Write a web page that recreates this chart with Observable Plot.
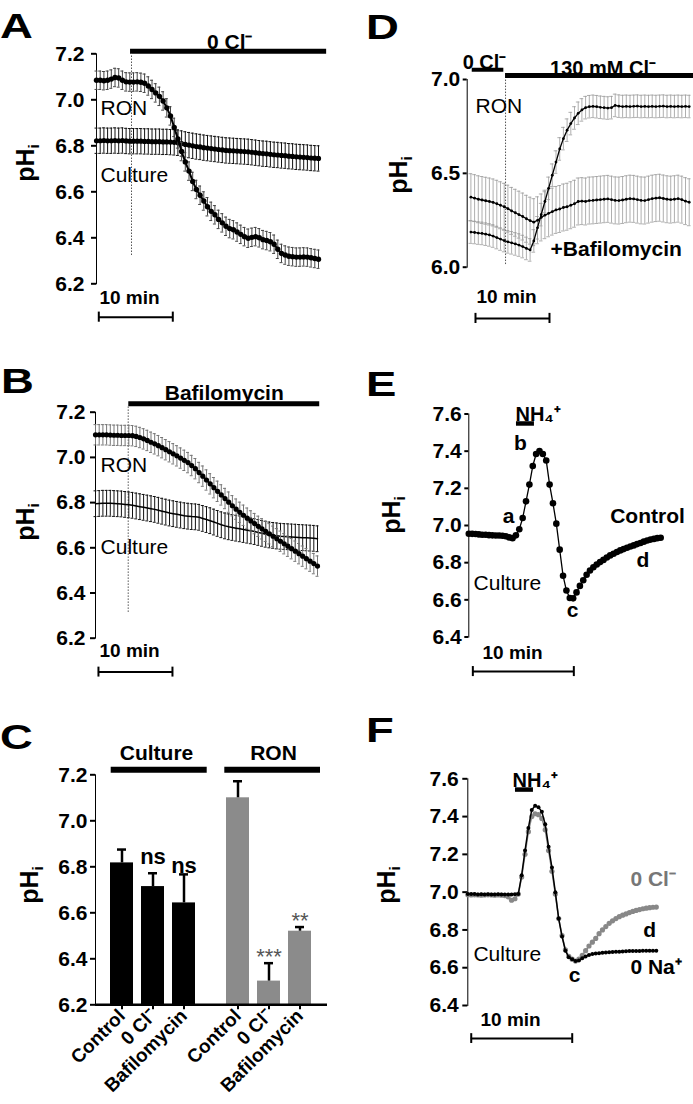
<!DOCTYPE html>
<html>
<head>
<meta charset="utf-8">
<title>Intracellular pH recordings</title>
<script src="https://cdn.jsdelivr.net/npm/d3@7"></script>
<script src="https://cdn.jsdelivr.net/npm/@observablehq/plot@0.6"></script>
<style>
html,body{margin:0;padding:0;background:#fff;}
#fig{position:relative;width:693px;height:1104px;overflow:hidden;background:#fff;font-family:"Liberation Sans",Arial,Helvetica,sans-serif;color:#000;}
.pnl{position:absolute;}
.pnl svg{display:block;overflow:visible;max-width:none !important;}
.letter{position:absolute;font-weight:bold;font-size:35px;line-height:1;transform:scaleX(1.3);transform-origin:0 0;}
.ylab{position:absolute;font-weight:bold;font-size:25px;line-height:1;white-space:nowrap;transform:translate(-50%,-50%) rotate(-90deg);}
.ylab sub{font-size:0.62em;vertical-align:-0.3em;}
.pnl svg g[aria-label^="y-axis"], .pnl svg g[aria-label^="x-axis"]{stroke-width:2px;}
.pnlC svg g[aria-label^="x-axis"] text{font-size:19px;}
</style>
</head>
<body>
<div id="fig"></div>
<script>
// ================= DATA =================
// Panel A: 0 Cl- (sampled every 0.5 min from t = 0)
const aRON = [7.085,7.085,7.083,7.085,7.09,7.097,7.095,7.085,7.078,7.077,7.077,
  7.078,7.076,7.072,7.06,7.045,7.03,7.015,6.995,6.965,6.93,
  6.88,6.83,6.775,6.73,6.69,6.645,6.61,6.585,6.56,6.535,
  6.515,6.5,6.48,6.465,6.45,6.44,6.435,6.425,6.415,6.405,
  6.398,6.402,6.405,6.4,6.392,6.388,6.383,6.372,6.35,6.332,
  6.325,6.32,6.318,6.316,6.316,6.317,6.316,6.313,6.31,6.307];
const aCulture = [6.822,6.822,6.823,6.822,6.822,6.823,6.822,6.823,6.821,6.82,6.82,
  6.82,6.82,6.819,6.819,6.818,6.818,6.818,6.817,6.817,6.816,
  6.815,6.813,6.81,6.806,6.803,6.8,6.797,6.795,6.792,6.79,
  6.788,6.786,6.784,6.782,6.78,6.779,6.778,6.777,6.776,6.775,
  6.774,6.772,6.77,6.768,6.766,6.765,6.763,6.761,6.76,6.758,
  6.757,6.755,6.754,6.752,6.751,6.75,6.749,6.747,6.746,6.745];
const semA_RON = 0.04, semA_Culture = 0.055;

// Panel B: Bafilomycin (every 0.5 min from t = 0)
const bRON = [7.1,7.1,7.1,7.1,7.099,7.098,7.098,7.097,7.097,7.097,7.096,
  7.093,7.088,7.082,7.075,7.067,7.06,7.052,7.043,7.034,7.025,
  7.016,7.007,6.997,6.987,6.977,6.964,6.95,6.933,6.917,6.9,
  6.883,6.866,6.85,6.834,6.818,6.802,6.786,6.771,6.757,6.744,
  6.731,6.719,6.707,6.695,6.684,6.673,6.662,6.651,6.64,6.629,
  6.618,6.607,6.596,6.585,6.574,6.563,6.552,6.541,6.53,6.519];
const bCulture = [6.795,6.796,6.797,6.797,6.797,6.796,6.795,6.794,6.792,6.79,6.788,
  6.785,6.782,6.779,6.776,6.773,6.77,6.766,6.762,6.758,6.754,
  6.751,6.748,6.745,6.742,6.74,6.738,6.737,6.735,6.73,6.725,
  6.72,6.714,6.708,6.702,6.697,6.693,6.69,6.687,6.684,6.681,
  6.678,6.675,6.672,6.668,6.664,6.66,6.657,6.655,6.653,6.651,
  6.65,6.649,6.648,6.647,6.646,6.645,6.644,6.643,6.642,6.64];
const semB_RON = 0.045, semB_Culture = 0.057;

// Panel C: mean pHi (bars) and SEM
const cCategories = ["Control", "0 Cl\u207B", "Bafilomycin"];
const cCultureMean = [6.817, 6.714, 6.643];
const cCultureSEM = [0.058, 0.058, 0.124];
const cRONMean = [7.10, 6.303, 6.52];
const cRONSEM = [0.072, 0.078, 0.018];
const cCultureSig = ["", "ns", "ns"];
const cRONSig = ["", "***", "**"];

// Panel D: RON, 0 Cl- then 130 mM Cl- (every 0.5 min from t = 0.5)
const dRON = [6.187,6.185,6.182,6.18,6.176,6.172,6.166,6.158,6.15,6.142,
  6.135,6.13,6.124,6.118,6.11,6.1,6.092,6.14,6.21,6.28,
  6.35,6.42,6.49,6.56,6.63,6.685,6.73,6.765,6.795,6.82,
  6.838,6.85,6.855,6.857,6.855,6.852,6.85,6.848,6.85,6.862,
  6.858,6.856,6.857,6.856,6.857,6.858,6.856,6.857,6.856,6.857,
  6.856,6.857,6.858,6.856,6.857,6.856,6.857,6.856,6.857,6.856];
const dBafilomycin = [6.373,6.368,6.362,6.358,6.354,6.35,6.345,6.338,6.33,6.322,
  6.312,6.3,6.29,6.28,6.27,6.258,6.248,6.24,6.25,6.265,
  6.277,6.287,6.296,6.305,6.31,6.318,6.322,6.33,6.338,6.35,
  6.352,6.35,6.355,6.356,6.358,6.36,6.362,6.364,6.36,6.356,
  6.355,6.358,6.362,6.365,6.364,6.36,6.356,6.355,6.36,6.365,
  6.368,6.37,6.366,6.362,6.36,6.362,6.365,6.36,6.352,6.346];
const semD_RON = 0.06, semD_Baf = 0.125;

// Panel E: NH4+ pulse, control (every 1/3 min from t = 0)
const eControl = [6.956,6.955,6.954,6.952,6.95,6.95,6.948,6.947,6.946,6.946,
  6.945,6.942,6.936,6.932,6.947,6.98,7.04,7.13,7.22,7.32,
  7.385,7.40,7.385,7.35,7.22,7.12,7.01,6.87,6.73,6.65,
  6.61,6.608,6.64,6.675,6.705,6.735,6.758,6.775,6.79,6.803,
  6.815,6.828,6.839,6.848,6.857,6.866,6.873,6.88,6.887,6.893,
  6.9,6.906,6.913,6.919,6.924,6.928,6.932,6.934];

// Panel F: NH4+ pulse, 0 Na+ (black) and 0 Cl- (grey) (every 1/3 min from t = 0)
const fNa0 = [6.99,6.99,6.99,6.988,6.989,6.988,6.989,6.988,6.988,6.989,6.988,6.987,6.988,6.988,6.989,6.99,
  7.09,7.22,7.34,7.435,7.458,7.45,7.425,7.36,7.24,7.13,
  7.0,6.86,6.765,6.69,6.655,6.645,6.635,6.638,6.65,6.66,
  6.667,6.672,6.675,6.677,6.679,6.68,6.682,6.683,6.684,6.685,
  6.686,6.687,6.688,6.688,6.689,6.689,6.69,6.69,6.69,6.69,6.69];
const fCl0 = [6.986,6.985,6.986,6.985,6.984,6.985,6.986,6.985,6.984,6.985,6.984,6.982,6.975,6.957,6.965,6.99,
  7.08,7.2,7.32,7.4,7.415,7.41,7.39,7.33,7.22,7.11,
  6.99,6.86,6.77,6.695,6.66,6.645,6.635,6.645,6.665,6.69,
  6.715,6.735,6.755,6.78,6.8,6.818,6.835,6.848,6.86,6.87,
  6.878,6.885,6.892,6.898,6.903,6.908,6.912,6.915,6.918,6.92,6.921];

const ticksAB = [6.2, 6.4, 6.6, 6.8, 7.0, 7.2];
const ticksD = [6.0, 6.5, 7.0];
const ticksEF = [6.4, 6.6, 6.8, 7.0, 7.2, 7.4, 7.6];

// ================= ANNOTATIONS (layout, in data units) =================
const notesA = [
  {label: "0 Cl\u207B", t: 18.0, ph: 7.223, anchor: "middle"},
  {label: "RON", t: 0.54, ph: 6.932, weight: "normal"},
  {label: "Culture", t: 0.54, ph: 6.642, weight: "normal"},
  {label: "10 min", t: 0.4, ph: 6.114, size: 19}
];
const treatA = [{t1: 4.6, t2: 31.1, ph: 7.211}];
const dottedA = [{t: 4.73, ph1: 6.323, ph2: 7.2}];
const scaleA = {t1: 0.31, t2: 10.31, ph: 6.055, cap: 0.022};

const notesB = [
  {label: "Bafilomycin", t: 17.4, ph: 7.252, anchor: "middle"},
  {label: "RON", t: 0.68, ph: 6.935, weight: "normal"},
  {label: "Culture", t: 0.68, ph: 6.573, weight: "normal"},
  {label: "10 min", t: 0.54, ph: 6.115, size: 19}
];
const treatB = [{t1: 4.5, t2: 30.3, ph: 7.237}];
const dottedB = [{t: 4.42, ph1: 6.314, ph2: 7.23}];
const scaleB = {t1: 0.4, t2: 10.4, ph: 6.05, cap: 0.022};

const notesD = [
  {label: "0 Cl\u207B", t: 2.34, ph: 7.058, anchor: "middle", size: 20},
  {label: "130 mM Cl\u207B", t: 18.35, ph: 7.026, anchor: "middle", size: 20},
  {label: "RON", t: 1.12, ph: 6.824, weight: "normal"},
  {label: "+Bafilomycin", t: 11.26, ph: 6.062},
  {label: "10 min", t: 1.26, ph: 5.807, size: 19}
];
const treatD = [{t1: 0.68, t2: 4.95, ph: 7.052}, {t1: 5.18, t2: 30.6, ph: 7.021}];
const dottedD = [{t: 5.18, ph1: 6.014, ph2: 7.0}];
const scaleD = {t1: 1.12, t2: 11.12, ph: 5.727, cap: 0.027};

const notesE = [
  {label: "NH\u2084\u207A", t: 4.62, ph: 7.56, size: 20},
  {label: "a", t: 3.93, ph: 7.016, anchor: "middle"},
  {label: "b", t: 5.12, ph: 7.404, anchor: "middle"},
  {label: "c", t: 10.27, ph: 6.505, anchor: "middle"},
  {label: "d", t: 17.25, ph: 6.774, anchor: "middle"},
  {label: "Control", t: 14.0, ph: 7.016},
  {label: "Culture", t: 0.47, ph: 6.655, weight: "normal"},
  {label: "10 min", t: 1.36, ph: 6.284, size: 19}
];
const treatE = [{t1: 4.72, t2: 6.5, ph: 7.549}];
const scaleE = {t1: 0.4, t2: 10.4, ph: 6.214, cap: 0.027};

const notesF = [
  {label: "NH\u2084\u207A", t: 4.43, ph: 7.559, size: 20},
  {label: "0 Cl\u207B", t: 16.1, ph: 7.035, fill: "#777"},
  {label: "d", t: 18.0, ph: 6.76, anchor: "middle"},
  {label: "0 Na\u207A", t: 16.1, ph: 6.569},
  {label: "c", t: 10.57, ph: 6.522, anchor: "middle"},
  {label: "Culture", t: 0.56, ph: 6.638, weight: "normal"},
  {label: "10 min", t: 1.26, ph: 6.294, size: 19}
];
const treatF = [{t1: 4.72, t2: 6.5, ph: 7.543}];
const scaleF = {t1: 0.34, t2: 10.34, ph: 6.225, cap: 0.026};

// ================= HELPERS =================
const FONT = '"Liberation Sans", Arial, Helvetica, sans-serif';
const baseStyle = {fontFamily: FONT, fontSize: "21px", fontWeight: "bold", color: "#000", background: "none", overflow: "visible"};
const f1 = d => d.toFixed(1);
const fig = document.getElementById("fig");

function ts(vals, t0, dt) { return vals.map((v, i) => ({t: t0 + i * dt, v})); }

function place(node, cls, left, top, width) {
  const div = document.createElement("div");
  div.className = "pnl " + cls;
  div.style.left = left + "px"; div.style.top = top + "px"; div.style.width = width + "px";
  div.appendChild(node); fig.appendChild(div);
}
function addHTML(cls, content, left, top) {
  const div = document.createElement("div");
  div.className = cls; div.innerHTML = content;
  div.style.left = left + "px"; div.style.top = top + "px";
  fig.appendChild(div);
}
function noteMarks(notes) {
  return notes.map(n => Plot.text([n], {
    x: "t", y: "ph", text: "label", textAnchor: n.anchor || "start", lineAnchor: "bottom",
    fontSize: n.size || 21, fontWeight: n.weight || "bold", fill: n.fill || "black"
  }));
}
function errMarks(data, sem, color, half, w = 1) {
  const lo = d => d.v - sem, hi = d => d.v + sem;
  return [
    Plot.ruleX(data, {x: "t", y1: lo, y2: hi, stroke: color, strokeWidth: w}),
    Plot.ruleY(data, {x1: d => d.t - half, x2: d => d.t + half, y: hi, stroke: color, strokeWidth: w}),
    Plot.ruleY(data, {x1: d => d.t - half, x2: d => d.t + half, y: lo, stroke: color, strokeWidth: w})
  ];
}
function scaleBar(s) {
  return [
    Plot.ruleY([s], {x1: "t1", x2: "t2", y: "ph", strokeWidth: 2}),
    Plot.ruleX([s.t1, s.t2], {x: d => d, y1: s.ph - s.cap, y2: s.ph + s.cap, strokeWidth: 2})
  ];
}
function treatBars(list, w) {
  return Plot.ruleY(list, {x1: "t1", x2: "t2", y: "ph", strokeWidth: w});
}
function dotted(list) {
  return Plot.ruleX(list, {x: "t", y1: "ph1", y2: "ph2", stroke: "#555", strokeWidth: 1, strokeDasharray: "1.5,1.5"});
}

// ================= PANEL A =================
const A_ron = ts(aRON, 0, 0.5), A_cul = ts(aCulture, 0, 0.5);
place(Plot.plot({
  width: 340, height: 340, marginLeft: 96, marginRight: 22, marginTop: 53.3, marginBottom: 56.7,
  x: {domain: [0, 30], axis: null},
  y: {domain: [6.2, 7.2], ticks: ticksAB, tickFormat: f1, tickSize: 5, tickPadding: 7, line: true, label: null},
  style: baseStyle,
  marks: [
    ...noteMarks(notesA.slice(0, 1)),
    treatBars(treatA, 5),
    dotted(dottedA),
    ...errMarks(A_cul, semA_Culture, "#111", 0.2),
    Plot.line(A_cul, {x: "t", y: "v", strokeWidth: 2}),
    Plot.dot(A_cul, {x: "t", y: "v", r: 2.6, fill: "black"}),
    ...errMarks(A_ron, semA_RON, "#444", 0.2),
    Plot.line(A_ron, {x: "t", y: "v", strokeWidth: 2}),
    Plot.dot(A_ron, {x: "t", y: "v", r: 2.7, fill: "black"}),
    ...noteMarks(notesA.slice(1)),
    ...scaleBar(scaleA)
  ]
}), "pnlA", 0, 0, 340);

// ================= PANEL B =================
const B_ron = ts(bRON, 0, 0.5), B_cul = ts(bCulture, 0, 0.5);
place(Plot.plot({
  width: 340, height: 340, marginLeft: 95, marginRight: 23, marginTop: 71.7, marginBottom: 42.3,
  x: {domain: [0, 30], axis: null},
  y: {domain: [6.2, 7.2], ticks: ticksAB, tickFormat: f1, tickSize: 5, tickPadding: 5, line: true, label: null},
  style: baseStyle,
  marks: [
    ...noteMarks(notesB.slice(0, 1)),
    treatBars(treatB, 5),
    dotted(dottedB),
    ...errMarks(B_cul, semB_Culture, "#111", 0.2),
    Plot.line(B_cul, {x: "t", y: "v", strokeWidth: 1.5}),
    ...errMarks(B_ron, semB_RON, "#777", 0.2),
    Plot.line(B_ron, {x: "t", y: "v", strokeWidth: 2}),
    Plot.dot(B_ron, {x: "t", y: "v", r: 2.6, fill: "black"}),
    ...noteMarks(notesB.slice(1)),
    ...scaleBar(scaleB)
  ]
}), "pnlB", 0, 340, 340);

// ================= PANEL C =================
const cCulture = cCategories.map((cat, i) => ({cat, mean: cCultureMean[i], sem: cCultureSEM[i], sig: cCultureSig[i]}));
const cRON = cCategories.map((cat, i) => ({cat, mean: cRONMean[i], sem: cRONSEM[i], sig: cRONSig[i]}));
const sigCulturePos = [null, 6.814, 6.775];
const sigRONPos = [null, 6.378, 6.532];

function barPanel(data, sigPos, fill, group, opts) {
  return Plot.plot({
    width: opts.width, height: 404, marginLeft: opts.ml, marginRight: 0, marginTop: 74.3, marginBottom: 99.7,
    x: {domain: cCategories, paddingInner: opts.pi, paddingOuter: opts.po, tickRotate: -45, tickSize: 5, tickPadding: 3, label: null},
    y: opts.yaxis
      ? {domain: [6.2, 7.2], ticks: ticksAB, tickFormat: f1, tickSize: 5, tickPadding: 3, line: true, label: null}
      : {domain: [6.2, 7.2], axis: null},
    style: baseStyle,
    marks: [
      Plot.barY(data, {x: "cat", y: "mean", fill, clip: true}),
      Plot.ruleX(data, {x: "cat", y1: "mean", y2: d => d.mean + d.sem, strokeWidth: 2.5, stroke: "black"}),
      Plot.tickY(data, {x: "cat", y: d => d.mean + d.sem, strokeWidth: 2.5, insetLeft: 7, insetRight: 7}),
      Plot.ruleY([6.2], {strokeWidth: 2.5}),
      Plot.ruleY([7.222], {strokeWidth: 6, insetLeft: opts.gl, insetRight: opts.gr}),
      Plot.text([group], {text: d => d, y: 7.266, lineAnchor: "bottom", dx: opts.gdx, fontSize: 21}),
      Plot.text(data.filter((d, i) => sigPos[i] != null).map(d => ({...d, py: sigPos[cCategories.indexOf(d.cat)]})),
        {x: "cat", y: "py", text: "sig", lineAnchor: "bottom", fontSize: opts.sigSize, fontWeight: opts.sigWeight, fill: opts.sigFill})
    ]
  });
}
place(barPanel(cCulture, sigCulturePos, "black", "Culture",
  {width: 210, ml: 95, pi: 0.274, po: 0.48, yaxis: true, gl: 15.7, gr: 3.3, gdx: 3.5, sigSize: 22, sigWeight: "bold", sigFill: "black"}),
  "pnlC", 0, 700, 210);
place(barPanel(cRON, sigRONPos, "#8b8b8b", "RON",
  {width: 117, ml: 0, pi: 0.27, po: 0.515, yaxis: false, gl: 14.3, gr: 7, gdx: 4.5, sigSize: 22, sigWeight: "normal", sigFill: "#555"}),
  "pnlC", 210, 700, 117);

// ================= PANEL D =================
const D_ron = ts(dRON, 0.5, 0.5), D_baf = ts(dBafilomycin, 0.5, 0.5);
place(Plot.plot({
  width: 343, height: 340, marginLeft: 116.7, marginRight: 0, marginTop: 79, marginBottom: 73.3,
  x: {domain: [0, 30.58], axis: null},
  y: {domain: [6.0, 7.0], ticks: ticksD, tickFormat: f1, tickSize: 4, tickPadding: 3, line: true, label: null},
  style: baseStyle,
  marks: [
    ...noteMarks(notesD.slice(0, 2)),
    treatBars(treatD.slice(0, 1), 4),
    treatBars(treatD.slice(1), 5),
    dotted(dottedD),
    ...errMarks(D_baf, semD_Baf, "#9a9a9a", 0.25, 0.8),
    ...errMarks(D_ron, semD_RON, "#9a9a9a", 0.25, 0.8),
    Plot.line(D_baf, {x: "t", y: "v", strokeWidth: 1.3}),
    Plot.dot(D_baf, {x: "t", y: "v", r: 1.4, fill: "black"}),
    Plot.line(D_ron, {x: "t", y: "v", strokeWidth: 1.3}),
    Plot.dot(D_ron, {x: "t", y: "v", r: 1.4, fill: "black"}),
    ...noteMarks(notesD.slice(2)),
    ...scaleBar(scaleD)
  ]
}), "pnlD", 350, 0, 343);

// ================= PANEL E =================
const E_ctl = ts(eControl, 0, 1 / 3);
place(Plot.plot({
  width: 343, height: 340, marginLeft: 118.3, marginRight: 0, marginTop: 73.5, marginBottom: 43.5,
  x: {domain: [0, 22.25], axis: null},
  y: {domain: [6.4, 7.6], ticks: ticksEF, tickFormat: f1, tickSize: 4, tickPadding: 3, line: true, label: null},
  style: baseStyle,
  marks: [
    ...noteMarks(notesE.slice(0, 1)),
    treatBars(treatE, 4.5),
    Plot.line(E_ctl, {x: "t", y: "v", strokeWidth: 1.3}),
    Plot.dot(E_ctl, {x: "t", y: "v", r: 3.3, fill: "black"}),
    ...noteMarks(notesE.slice(1)),
    ...scaleBar(scaleE)
  ]
}), "pnlE", 350, 340, 343);

// ================= PANEL F =================
const F_na = ts(fNa0, 0, 1 / 3), F_cl = ts(fCl0, 0, 1 / 3);
place(Plot.plot({
  width: 343, height: 414, marginLeft: 117.3, marginRight: 0, marginTop: 88.3, marginBottom: 99,
  x: {domain: [0, 22.35], axis: null},
  y: {domain: [6.4, 7.6], ticks: ticksEF, tickFormat: f1, tickSize: 5, tickPadding: 4, line: true, label: null},
  style: baseStyle,
  marks: [
    ...noteMarks(notesF.slice(0, 1)),
    treatBars(treatF, 4.5),
    Plot.line(F_cl, {x: "t", y: "v", stroke: "#888", strokeWidth: 1.5}),
    Plot.dot(F_cl, {x: "t", y: "v", r: 2.6, fill: "#888"}),
    Plot.line(F_na, {x: "t", y: "v", strokeWidth: 1.5}),
    Plot.dot(F_na, {x: "t", y: "v", r: 2, fill: "black"}),
    ...noteMarks(notesF.slice(1)),
    ...scaleBar(scaleF)
  ]
}), "pnlF", 350, 690, 343);

// ================= PANEL LETTERS & Y LABELS =================
addHTML("letter", "A", 0, 7.5);
addHTML("letter", "B", 1, 362.5);
addHTML("letter", "C", 0, 718.5);
addHTML("letter", "D", 366, 8.5);
addHTML("letter", "E", 366, 365.5);
addHTML("letter", "F", 366, 711.5);
const ylabel = "pH<sub>i</sub>";
addHTML("ylab", ylabel, 27, 163);
addHTML("ylab", ylabel, 27, 522);
addHTML("ylab", ylabel, 31, 885);
addHTML("ylab", ylabel, 400, 175);
addHTML("ylab", ylabel, 393, 515);
addHTML("ylab", ylabel, 388, 885);
</script>
</body>
</html>
